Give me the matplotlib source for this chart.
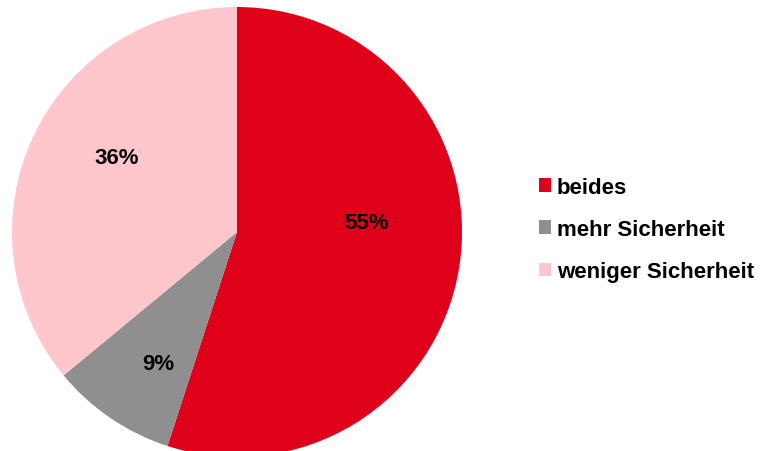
import matplotlib.pyplot as plt

plt.rcParams['font.family'] = ['Liberation Sans', 'DejaVu Sans']

labels = ['beides', 'mehr Sicherheit', 'weniger Sicherheit']
values = [55, 9, 36]
colors = ['#DF001A', '#8F8F8F', '#FFC6CB']
# label spots (fraction of radius), like Excel's best fit placement
label_pos = [(0.577, 0.04), (-0.35, -0.585), (-0.533, 0.33)]

fig = plt.figure(figsize=(7.73, 4.52), dpi=100)
ax = fig.add_axes([12/773, -6/452, 450/773, 450/452])

wedges, texts, autotexts = ax.pie(values, colors=colors, startangle=90, counterclock=False,
                                  autopct='%1.0f%%', pctdistance=0.6,
                                  wedgeprops=dict(linewidth=0),
                                  textprops=dict(fontsize=16, fontweight='bold', color='black'))
for t, p in zip(autotexts, label_pos):
    t.set_position(p)
ax.set_xlim(-1, 1)
ax.set_ylim(-1, 1)
ax.set_aspect('equal')

fig.legend(wedges, labels, loc='center left', bbox_to_anchor=(519/773, 0.49),
           frameon=False, prop=dict(size=16, weight='bold'),
           handlelength=0.55, handleheight=0.55, handletextpad=0.25, labelspacing=0.95)

fig.savefig('out.png', dpi=100)
